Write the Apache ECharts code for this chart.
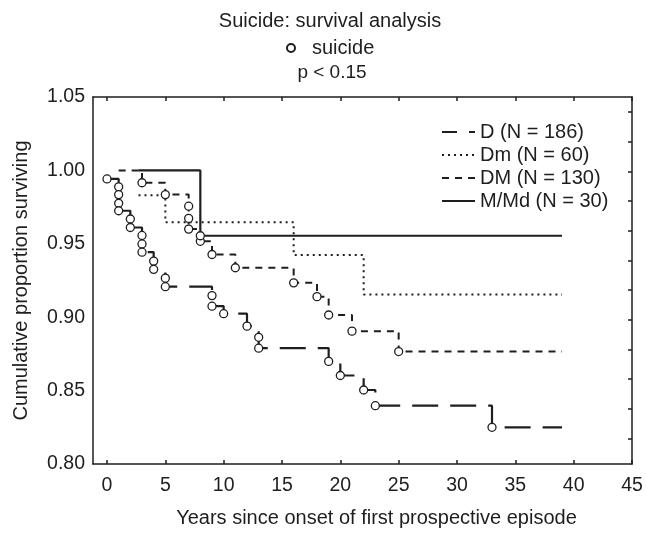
<!DOCTYPE html>
<html><head><meta charset="utf-8">
<script src="https://cdn.jsdelivr.net/npm/echarts@6/dist/echarts.min.js"></script>
<style>html,body{margin:0;padding:0;background:#fff}#c{width:646px;height:533px}</style>
</head><body><div id="c"></div>
<script>
// ---- tick values ----
const xTicks = [0, 5, 10, 15, 20, 25, 30, 35, 40, 45];
const rightTicks = [0, 1, 2, 3, 4, 5, 6, 7, 8, 9, 10, 11];

// ---- series names ----
const seriesNames = ['D (N = 186)', 'Dm (N = 60)', 'DM (N = 130)', 'M/Md (N = 30)'];

// ---- D (long dash) ----
const dTimes = [0, 1, 2, 3, 4, 5, 9, 10, 12, 13, 19, 20, 22, 23, 33, 39];
const dSurv  = [0.9942, 0.9725, 0.9611, 0.9443, 0.9326, 0.9208, 0.9075, 0.9024, 0.8939, 0.8789, 0.8699, 0.8603, 0.8504, 0.8397, 0.825, 0.825];

// ---- Dm (dotted) ----
const smallDmTimes = [2.7, 5, 16, 22, 39];
const smallDmSurv  = [0.983, 0.9647, 0.9423, 0.9155, 0.9155];

// ---- DM (short dash) ----
const bigDMTimes = [1, 3, 5, 7, 8, 9, 11, 16, 18, 19, 21, 25, 39];
const bigDMSurv  = [1.0, 0.9916, 0.9835, 0.96, 0.9517, 0.9427, 0.9337, 0.9234, 0.914, 0.9015, 0.8905, 0.8766, 0.8766];

// ---- M/Md (solid) ----
const mTimes = [2.7, 8, 39];
const mSurv  = [1.0, 0.9555, 0.9555];

// ---- suicide markers ----
const suicideTimes = [0, 1, 1, 1, 1, 2, 2, 3, 3, 3, 4, 4, 5, 5, 9, 9, 10, 12, 13, 13, 19, 20, 22, 23, 33,
                      3, 5, 7, 7, 7, 8, 9, 11, 16, 18, 19, 21, 25,
                      8];
const suicideSurv  = [0.9942, 0.9888, 0.9835, 0.9776, 0.9725, 0.9669, 0.9611, 0.9557, 0.9499, 0.9443, 0.9382, 0.9326, 0.9266, 0.9208, 0.9147, 0.9075, 0.9024, 0.8939, 0.8863, 0.8789, 0.8699, 0.8603, 0.8504, 0.8397, 0.825,
                      0.9916, 0.9835, 0.9756, 0.9673, 0.96, 0.9517, 0.9427, 0.9337, 0.9234, 0.914, 0.9015, 0.8905, 0.8766,
                      0.9555];

const zip = (a, b) => a.map((v, i) => [v, b[i]]);
const FONT = 'Liberation Sans, Arial, sans-serif';
const INK = '#1e1e1e';

const frameLine = { show: true, onZero: false, lineStyle: { color: INK, width: 1.5 } };

const chart = echarts.init(document.getElementById('c'));
chart.setOption({
  animation: false,
  backgroundColor: '#fff',
  title: [
    { text: 'Suicide: survival analysis', left: 330, top: 11, textAlign: 'center', padding: 0,
      textStyle: { fontSize: 20, fontWeight: 'normal', color: INK, fontFamily: FONT } },
    { text: 'p < 0.15', left: 332, top: 63, textAlign: 'center', padding: 0,
      textStyle: { fontSize: 19, fontWeight: 'normal', color: INK, fontFamily: FONT } }
  ],
  legend: [
    { data: ['suicide'], left: 286, top: 38, padding: 0, itemWidth: 32, itemHeight: 8,
      textStyle: { fontSize: 20, color: INK, fontFamily: FONT } },
    { data: [
        { name: seriesNames[0], lineStyle: { type: [15, 12] } },
        { name: seriesNames[1] },
        { name: seriesNames[2] },
        { name: seriesNames[3] }
      ],
      orient: 'vertical', left: 441, top: 122, padding: 0, itemWidth: 33, itemHeight: 14, itemGap: 3,
      itemStyle: { opacity: 0, borderWidth: 0 },
      textStyle: { fontSize: 20, color: INK, fontFamily: FONT } }
  ],
  grid: { left: 93, top: 97, width: 539, height: 372, containLabel: false },
  xAxis: [
    { type: 'value', min: -1.2, max: 45, position: 'bottom',
      axisLine: frameLine,
      axisTick: { show: true, inside: true, length: 4, customValues: xTicks, lineStyle: { color: INK, width: 1.5 } },
      axisLabel: { customValues: xTicks, fontSize: 19.5, color: INK, margin: 12, fontFamily: FONT },
      splitLine: { show: false },
      name: 'Years since onset of first prospective episode', nameLocation: 'middle', nameGap: 44,
      nameTextStyle: { fontSize: 20, color: INK, fontFamily: FONT, padding: [0, 0, 0, 28] } },
    { type: 'value', min: -1.2, max: 45, position: 'top',
      axisLine: frameLine,
      axisTick: { show: true, inside: true, length: 4, customValues: xTicks, lineStyle: { color: INK, width: 1.5 } },
      axisLabel: { show: false }, splitLine: { show: false } }
  ],
  yAxis: [
    { type: 'value', min: 0.8, max: 1.05, interval: 0.05, position: 'left',
      axisLine: frameLine, axisTick: { show: false },
      axisLabel: { formatter: v => v.toFixed(2), fontSize: 19.5, color: INK, margin: 8, fontFamily: FONT },
      splitLine: { show: false },
      name: 'Cumulative proportion surviving', nameLocation: 'middle', nameGap: 62,
      nameTextStyle: { fontSize: 20, color: INK, fontFamily: FONT } },
    { type: 'value', min: -0.857, max: 11.51, position: 'right',
      axisLine: frameLine,
      axisTick: { show: true, inside: true, length: 4, customValues: rightTicks, lineStyle: { color: INK, width: 1.5 } },
      axisLabel: { show: false }, splitLine: { show: false } }
  ],
  series: [
    { name: seriesNames[0], type: 'line', step: 'end', symbol: 'none', data: zip(dTimes, dSurv),
      lineStyle: { color: INK, width: 2.2, type: [26, 12] }, itemStyle: { color: INK }, z: 2 },
    { name: seriesNames[1], type: 'line', step: 'end', symbol: 'none', data: zip(smallDmTimes, smallDmSurv),
      lineStyle: { color: INK, width: 2, type: [2, 4] }, itemStyle: { color: INK }, z: 2 },
    { name: seriesNames[2], type: 'line', step: 'end', symbol: 'none', data: zip(bigDMTimes, bigDMSurv),
      lineStyle: { color: INK, width: 2, type: [7, 6] }, itemStyle: { color: INK }, z: 2 },
    { name: seriesNames[3], type: 'line', step: 'end', symbol: 'none', data: zip(mTimes, mSurv),
      lineStyle: { color: INK, width: 2.2, type: 'solid' }, itemStyle: { color: INK }, z: 3 },
    { name: 'suicide', type: 'scatter', symbol: 'circle', symbolSize: 8, data: zip(suicideTimes, suicideSurv),
      itemStyle: { color: '#fff', borderColor: INK, borderWidth: 1.3, opacity: 1 }, z: 5 }
  ]
});
</script>
</body></html>
